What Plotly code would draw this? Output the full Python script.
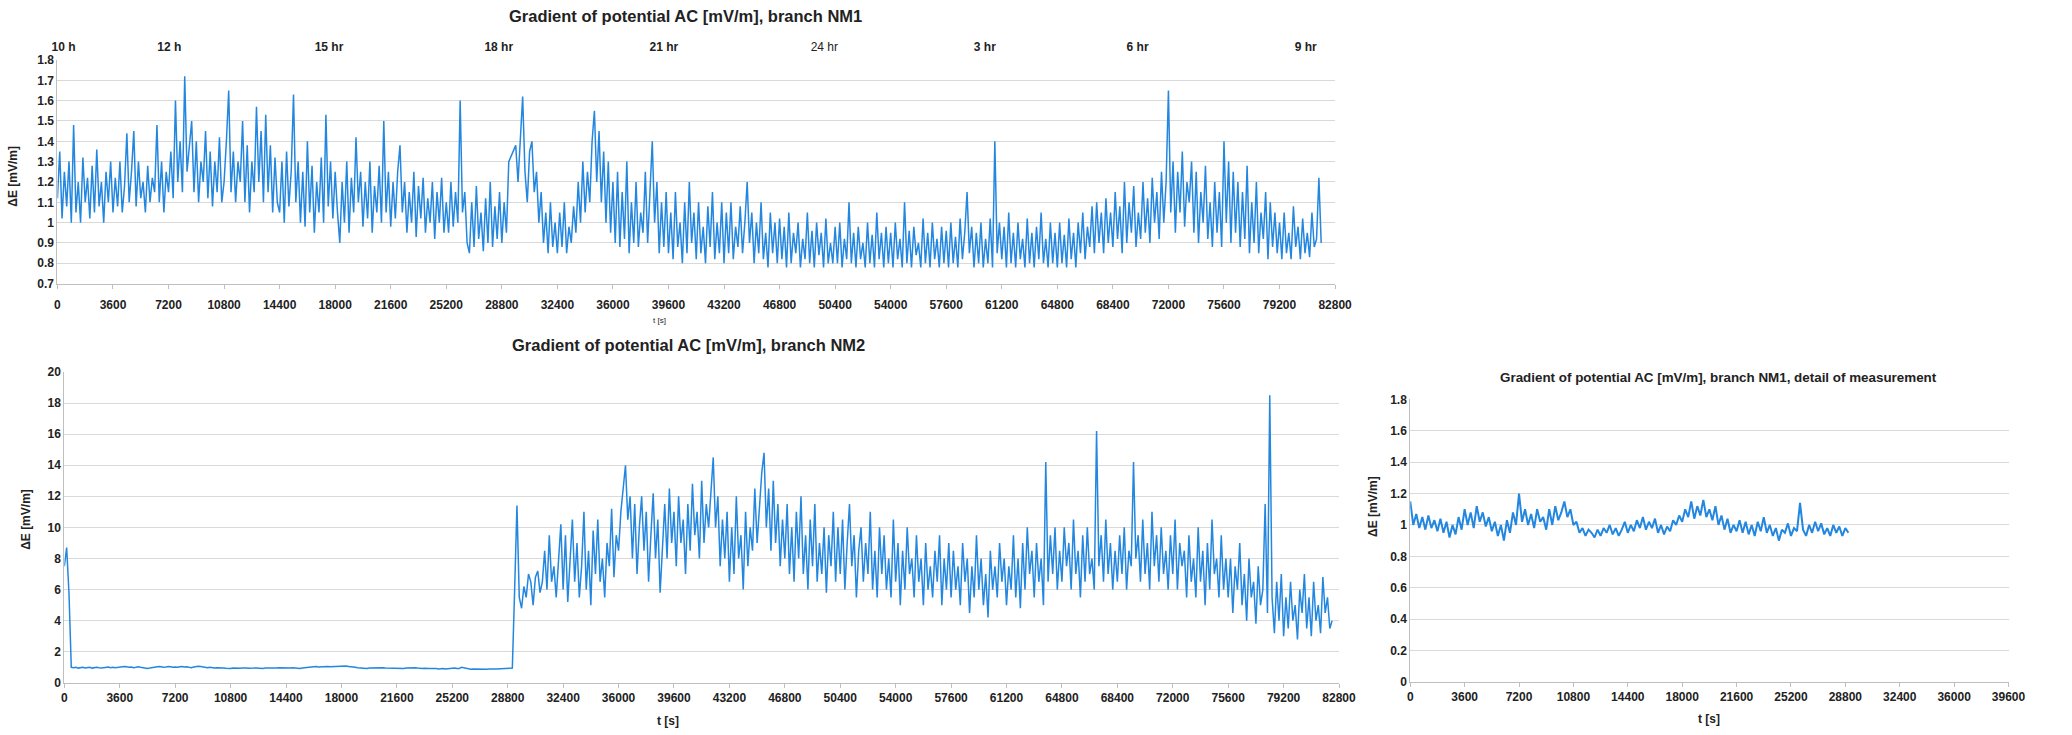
import numpy as np
import plotly.graph_objects as go

# ---------------- DATA ----------------
nm1_step = 150
nm1_values = [
    1.12, 1.35, 1.02, 1.25, 1.08, 1.3, 1.0, 1.48, 1.05, 1.2, 1.0, 1.32, 1.1, 1.22, 1.02, 1.28, 1.05, 1.36, 1.08, 1.2, 1.0, 1.25, 1.1, 1.3,
    1.05, 1.22, 1.08, 1.3, 1.05, 1.18, 1.44, 1.1, 1.25, 1.45, 1.08, 1.3, 1.12, 1.2, 1.05, 1.28, 1.1, 1.22, 1.15, 1.48, 1.1, 1.3, 1.05, 1.25,
    1.15, 1.35, 1.12, 1.6, 1.2, 1.4, 1.15, 1.72, 1.25, 1.38, 1.5, 1.15, 1.4, 1.1, 1.3, 1.2, 1.45, 1.12, 1.35, 1.08, 1.3, 1.15, 1.42, 1.1,
    1.2, 1.4, 1.65, 1.15, 1.35, 1.1, 1.3, 1.2, 1.5, 1.1, 1.38, 1.05, 1.3, 1.15, 1.57, 1.2, 1.45, 1.1, 1.53, 1.15, 1.38, 1.05, 1.32, 1.1,
    1.05, 1.3, 1.0, 1.35, 1.08, 1.25, 1.63, 1.1, 1.3, 1.0, 1.25, 0.98, 1.4, 1.05, 1.28, 0.95, 1.2, 1.05, 1.32, 1.0, 1.53, 1.08, 1.3, 1.02,
    1.25, 1.05, 0.9, 1.2, 1.0, 1.3, 0.95, 1.22, 1.05, 1.42, 1.1, 1.25, 0.98, 1.2, 1.02, 1.3, 0.95, 1.18, 1.05, 1.28, 1.0, 1.5, 1.05, 1.25,
    0.98, 1.2, 1.02, 1.25, 1.38, 1.05, 1.2, 0.95, 1.15, 1.0, 1.25, 0.93, 1.18, 1.02, 1.22, 0.95, 1.12, 1.0, 1.2, 0.92, 1.15, 1.0, 1.22, 0.95,
    1.1, 0.95, 1.2, 0.98, 1.15, 1.0, 1.6, 1.05, 1.15, 0.9, 0.85, 1.1, 0.88, 1.18, 0.92, 1.05, 0.86, 1.12, 0.9, 1.2, 0.88, 1.08, 0.92, 1.15,
    0.9, 1.1, 0.95, 1.3, 1.33, 1.36, 1.38, 1.2, 1.45, 1.62, 1.25, 1.1, 1.35, 1.4, 1.15, 1.25, 1.0, 1.15, 0.9, 1.05, 0.85, 1.1, 0.88, 1.0,
    0.85, 1.05, 0.88, 1.1, 0.85, 0.98, 0.9, 1.08, 0.95, 1.2, 1.0, 1.3, 1.05, 1.25, 1.1, 1.4, 1.55, 1.2, 1.45, 1.1, 1.35, 1.0, 1.3, 0.95,
    1.2, 0.9, 1.25, 0.88, 1.15, 0.92, 1.3, 0.85, 1.1, 0.9, 1.2, 0.88, 1.05, 0.95, 1.25, 0.9, 1.15, 1.4, 1.0, 1.2, 0.85, 1.1, 0.88, 1.15,
    0.85, 1.05, 0.82, 1.15, 0.88, 1.0, 0.8, 1.1, 0.85, 1.2, 0.9, 1.05, 0.82, 1.1, 0.85, 0.98, 0.8, 1.08, 0.88, 1.15, 0.82, 1.0, 0.85, 1.1,
    0.8, 1.05, 0.85, 1.1, 0.82, 0.98, 0.88, 1.08, 0.85, 1.0, 1.2, 0.9, 1.05, 0.8, 1.0, 0.85, 1.1, 0.82, 0.95, 0.78, 1.05, 0.85, 1.0, 0.8,
    1.02, 0.82, 0.98, 0.78, 1.05, 0.8, 0.95, 0.85, 1.0, 0.78, 0.92, 0.82, 1.05, 0.8, 0.96, 0.78, 1.0, 0.84, 0.95, 0.78, 1.02, 0.8, 0.9, 0.8,
    0.98, 0.8, 1.0, 0.78, 0.92, 0.82, 1.1, 0.8, 0.95, 0.78, 0.98, 0.82, 0.9, 0.78, 1.0, 0.8, 0.94, 0.78, 1.05, 0.82, 0.95, 0.78, 0.98, 0.8,
    0.95, 0.78, 1.0, 0.82, 0.92, 0.78, 1.1, 0.8, 0.96, 0.78, 0.98, 0.84, 0.9, 0.78, 1.02, 0.8, 0.95, 0.78, 1.0, 0.82, 0.92, 0.78, 0.98, 0.8,
    0.96, 0.78, 1.0, 0.8, 0.93, 0.78, 1.02, 0.82, 0.95, 1.15, 0.85, 0.98, 0.78, 0.95, 0.8, 1.0, 0.78, 0.92, 0.8, 1.02, 0.78, 1.4, 0.85, 1.0,
    0.82, 0.98, 0.78, 1.05, 0.8, 0.95, 0.78, 1.0, 0.82, 0.92, 0.78, 1.02, 0.8, 0.95, 0.78, 0.98, 0.82, 1.05, 0.8, 0.92, 0.78, 1.0, 0.8, 0.95,
    0.78, 1.0, 0.8, 0.94, 0.78, 1.02, 0.82, 0.95, 0.78, 1.0, 0.85, 1.05, 0.82, 0.98, 0.88, 1.08, 0.85, 1.1, 0.9, 1.05, 0.85, 1.12, 0.9, 1.05,
    0.88, 1.15, 0.92, 1.08, 0.85, 1.2, 0.9, 1.1, 0.95, 1.18, 0.88, 1.05, 0.92, 1.2, 0.95, 1.12, 0.9, 1.22, 1.0, 1.15, 0.92, 1.25, 1.0, 1.2,
    1.65, 1.05, 1.3, 0.95, 1.25, 1.05, 1.35, 0.98, 1.2, 1.1, 1.3, 0.95, 1.25, 0.9, 1.15, 1.0, 1.28, 0.92, 1.1, 0.88, 1.2, 0.95, 1.15, 0.88,
    1.4, 1.0, 1.3, 0.9, 1.25, 0.95, 1.2, 0.88, 1.15, 0.92, 1.28, 0.85, 1.1, 0.9, 1.2, 0.85, 1.05, 0.92, 1.15, 0.82, 1.1, 0.88, 1.05, 0.85,
    1.0, 0.82, 1.05, 0.85, 0.95, 0.82, 1.08, 0.88, 0.98, 0.82, 1.02, 0.85, 0.95, 0.83, 1.05, 0.88, 0.92, 1.22, 0.9,
]

# Branch NM2, full record, sampled every 150 s
nm2_step = 150
nm2_values = [
    7.5, 8.7, 5.8, 1.0, 0.98, 1.0, 0.95, 0.97, 1.0, 0.96, 0.98, 1.0, 0.95, 0.98, 1.0, 0.97, 0.95, 0.98, 1.0, 1.02, 0.98, 1.0, 0.97, 1.0,
    1.0, 1.02, 1.05, 1.03, 1.0, 1.02, 0.98, 1.0, 1.03, 1.0, 0.97, 0.95, 0.93, 0.95, 0.98, 1.0, 1.02, 1.05, 1.03, 1.0, 1.02, 1.05, 1.03, 1.0,
    1.02, 1.0, 1.03, 1.05, 1.02, 1.04, 1.0, 0.98, 1.02, 1.05, 1.07, 1.05, 1.02, 1.0, 0.98, 1.0, 0.97, 0.95, 0.97, 0.95, 0.93, 0.95, 0.94, 0.92,
    0.93, 0.95, 0.94, 0.92, 0.94, 0.95, 0.93, 0.95, 0.94, 0.93, 0.95, 0.96, 0.94, 0.95, 0.93, 0.95, 0.97, 0.95, 0.96, 0.94, 0.95, 0.97, 0.96, 0.95,
    0.97, 0.96, 0.95, 0.97, 0.95, 0.94, 0.93, 0.95, 0.97, 1.0, 1.02, 1.0, 1.03, 1.05, 1.02, 1.04, 1.03, 1.05, 1.06, 1.04, 1.05, 1.07, 1.05, 1.08,
    1.07, 1.1, 1.08, 1.06, 1.05, 1.02, 1.0, 0.97, 0.95, 0.97, 0.95, 0.93, 0.95, 0.96, 0.94, 0.97, 0.95, 0.96, 0.98, 0.96, 0.95, 0.97, 0.96, 0.95,
    0.96, 0.95, 0.94, 0.93, 0.95, 0.96, 0.94, 0.95, 0.97, 0.95, 0.93, 0.92, 0.94, 0.95, 0.93, 0.92, 0.94, 0.92, 0.9, 0.92, 0.93, 0.9, 0.92, 0.91,
    0.93, 0.95, 0.93, 0.92, 1.0, 0.97, 0.94, 0.9, 0.88, 0.9, 0.89, 0.9, 0.88, 0.9, 0.89, 0.88, 0.9, 0.92, 0.9, 0.89, 0.9, 0.88, 0.9, 0.92,
    0.92, 0.9, 0.95, 6.0, 11.4, 5.5, 4.8, 6.2, 5.5, 7.0, 6.5, 5.0, 6.8, 7.2, 5.8, 6.5, 8.5, 6.0, 9.5, 6.5, 7.5, 5.5, 8.0, 10.2,
    6.0, 9.5, 5.2, 8.0, 10.5, 6.5, 9.0, 5.5, 7.5, 11.0, 6.0, 8.5, 5.0, 9.8, 7.0, 10.5, 6.5, 8.0, 5.5, 9.0, 7.5, 11.2, 6.8, 9.5,
    8.5, 11.0, 12.5, 14.0, 10.5, 12.0, 8.0, 11.5, 7.0, 10.0, 12.0, 8.5, 11.0, 6.5, 9.5, 12.2, 8.0, 10.5, 5.8, 9.0, 11.5, 8.0, 12.5, 9.0,
    11.0, 7.5, 12.0, 9.0, 10.5, 7.0, 11.5, 8.5, 12.8, 9.5, 11.0, 8.0, 13.0, 9.0, 11.5, 10.0, 12.5, 14.5, 10.0, 12.0, 7.5, 10.5, 8.0, 11.0,
    6.5, 10.0, 7.0, 12.0, 8.0, 9.5, 6.0, 11.0, 7.5, 10.0, 8.5, 12.5, 9.0, 11.0, 13.5, 14.8, 10.0, 12.5, 8.5, 13.0, 9.0, 11.5, 7.5, 10.5,
    8.0, 11.5, 7.0, 10.0, 6.5, 11.0, 8.0, 12.0, 7.0, 9.5, 6.0, 10.5, 7.5, 11.5, 6.5, 9.0, 7.0, 10.0, 5.8, 9.5, 7.5, 11.0, 6.5, 10.0,
    7.0, 10.5, 6.0, 9.0, 11.5, 7.5, 9.5, 5.5, 8.5, 10.0, 6.5, 9.0, 7.0, 11.0, 6.0, 8.5, 5.5, 10.0, 7.0, 9.5, 6.0, 8.0, 5.5, 10.5,
    6.5, 9.0, 5.0, 8.5, 6.0, 10.0, 7.0, 8.0, 5.5, 9.5, 6.5, 8.0, 5.0, 9.0, 6.0, 7.5, 5.5, 8.5, 6.5, 9.5, 5.0, 8.0, 6.0, 9.0,
    5.5, 8.5, 6.0, 7.5, 5.0, 9.0, 6.5, 8.0, 4.5, 7.5, 5.5, 9.5, 6.0, 8.0, 5.0, 7.0, 4.2, 8.5, 6.0, 7.5, 5.5, 9.0, 6.5, 8.0,
    5.0, 7.5, 6.0, 9.5, 5.5, 8.0, 4.8, 9.0, 6.0, 10.0, 7.0, 8.5, 5.5, 9.0, 6.5, 8.0, 5.0, 14.2, 6.5, 9.5, 7.0, 10.0, 6.0, 8.5,
    6.5, 10.0, 7.5, 9.0, 6.0, 10.5, 7.0, 8.5, 5.5, 9.5, 6.5, 10.0, 7.0, 8.0, 6.0, 16.2, 7.5, 9.5, 6.5, 10.5, 7.0, 9.0, 6.0, 8.5,
    6.5, 9.5, 7.0, 10.0, 6.0, 8.5, 7.5, 14.2, 8.0, 9.5, 6.5, 10.5, 7.0, 9.0, 6.0, 11.0, 7.5, 9.5, 6.5, 10.0, 7.0, 8.5, 6.0, 9.5,
    7.0, 10.5, 6.0, 9.0, 7.5, 8.5, 5.5, 9.5, 6.5, 8.0, 5.5, 10.0, 6.5, 8.5, 5.0, 9.0, 6.0, 10.5, 7.0, 8.0, 5.5, 9.5, 6.0, 8.0,
    5.5, 8.0, 4.5, 7.5, 6.0, 9.0, 5.0, 7.0, 4.0, 8.0, 5.5, 6.5, 3.8, 7.5, 5.0, 6.0, 11.5, 4.5, 18.5, 5.5, 3.2, 6.5, 4.0, 7.0,
    3.0, 5.5, 3.5, 6.5, 4.0, 5.0, 2.8, 6.0, 4.5, 7.0, 3.5, 5.5, 3.0, 6.5, 4.0, 5.0, 3.2, 6.8, 4.5, 5.5, 3.5, 4.0,
]

# Branch NM1, detail of measurement, sampled every 200 s
det_step = 200
det_values = [
    1.15, 1.0, 1.07, 0.98, 1.05, 0.97, 1.06, 0.98, 1.03, 0.96,
    1.04, 0.95, 1.02, 0.92, 1.0, 0.94, 1.05, 0.97, 1.1, 1.0,
    1.08, 0.98, 1.12, 1.02, 1.08, 0.99, 1.05, 0.96, 1.02, 0.93,
    1.0, 0.9, 1.03, 0.95, 1.08, 1.0, 1.2, 1.02, 1.1, 1.0,
    1.07, 0.98, 1.1, 1.02, 1.05, 0.97, 1.1, 1.0, 1.12, 1.03,
    1.08, 1.15, 1.05, 1.1, 1.0, 1.02, 0.95, 0.98, 0.93, 0.97,
    0.95, 0.92, 0.97, 0.93, 0.98, 0.95, 1.0, 0.94, 0.98, 0.93,
    0.97, 1.02, 0.95, 1.0, 0.96, 1.03, 0.98, 1.05, 0.97, 1.02,
    0.98, 1.04, 0.95, 1.0, 0.94, 0.99, 0.96, 1.03, 1.0, 1.06,
    1.02, 1.1, 1.05, 1.15, 1.04, 1.12, 1.06, 1.16, 1.05, 1.1,
    1.03, 1.12, 1.0, 1.06, 0.97, 1.04, 0.95, 1.0, 0.96, 1.03,
    0.95, 1.02, 0.94, 1.0, 0.93, 1.02, 0.96, 1.05, 0.95, 1.0,
    0.93, 0.98, 0.9, 0.97, 0.95, 1.01, 0.93, 0.98, 0.96, 1.14,
    0.97, 0.93, 1.0, 0.95, 1.02, 0.96, 1.01, 0.94, 0.98, 0.93,
    1.0, 0.95, 0.99, 0.93, 0.98, 0.95,
]

# Clock-time labels above the NM1 chart (tick positions in seconds)
hour_labels = ["<b>10 h</b>", "<b>12 h</b>", "<b>15 hr</b>", "<b>18 hr</b>", "<b>21 hr</b>",
               "24 hr", "<b>3 hr</b>", "<b>6 hr</b>", "<b>9 hr</b>"]
hour_positions = [400, 7250, 17600, 28600, 39300, 49700, 60100, 70000, 80900]

titles = ["Gradient of potential AC [mV/m], branch NM1",
          "Gradient of potential AC [mV/m], branch NM2",
          "Gradient of potential AC [mV/m], branch NM1, detail of measurement"]

# ---------------- FIGURE ----------------
W, H = 2072, 735
FONT = "Liberation Sans, Arial, sans-serif"
BLUE = "#2387e0"
GRID = "#d9d9d9"
TXT = "#222"

def px(y):
    return 1 - y / H

def fx(x):
    return x / W

t_nm1 = np.arange(len(nm1_values)) * nm1_step
t_nm2 = np.arange(len(nm2_values)) * nm2_step
t_det = np.arange(len(det_values)) * det_step

fig = go.Figure()
fig.add_trace(go.Scatter(x=t_nm1, y=nm1_values, mode="lines", xaxis="x", yaxis="y",
                         line=dict(color=BLUE, width=1.5), showlegend=False))
fig.add_trace(go.Scatter(x=t_nm2, y=nm2_values, mode="lines", xaxis="x2", yaxis="y2",
                         line=dict(color=BLUE, width=1.5), showlegend=False))
fig.add_trace(go.Scatter(x=t_det, y=det_values, mode="lines", xaxis="x3", yaxis="y3",
                         line=dict(color=BLUE, width=2), showlegend=False))
# invisible trace to activate the clock-time axis on top of the NM1 chart
fig.add_trace(go.Scatter(x=[0], y=[None], xaxis="x4", yaxis="y", showlegend=False,
                         hoverinfo="skip"))

tickfont = dict(family=FONT, size=12, color=TXT, weight="bold")

common_x = dict(showgrid=False, showline=True, linecolor="#bfbfbf", linewidth=1,
                ticks="outside", ticklen=4, tickcolor="#bfbfbf", tickformat="d",
                zeroline=False, tickfont=tickfont)
common_y = dict(showgrid=True, gridcolor=GRID, gridwidth=1, showline=True, linecolor="#bfbfbf",
                linewidth=1, ticks="", zeroline=False, tickfont=tickfont)

fig.update_layout(
    width=W, height=H, margin=dict(l=0, r=0, t=0, b=0),
    paper_bgcolor="white", plot_bgcolor="white",
    font=dict(family=FONT, color=TXT),
    xaxis=dict(domain=[fx(52), fx(1344)], range=[0, 82800], tick0=0, dtick=3600,
               anchor="y", ticklabelstandoff=6, **common_x),
    yaxis=dict(domain=[px(282), px(54)], range=[0.7, 1.8], dtick=0.1, anchor="x", **common_y),
    xaxis4=dict(overlaying="x", side="top", range=[0, 82800], anchor="y",
                tickmode="array", tickvals=hour_positions, ticktext=hour_labels,
                showgrid=False, showline=False, ticks="outside", ticklen=3,
                tickcolor="rgba(0,0,0,0)", zeroline=False,
                tickfont=dict(family=FONT, size=12, color=TXT)),
    xaxis2=dict(domain=[fx(59), fx(1348)], range=[0, 82800], tick0=0, dtick=3600,
                anchor="y2", **common_x),
    yaxis2=dict(domain=[px(689), px(372)], range=[0, 20], dtick=2, anchor="x2", **common_y),
    xaxis3=dict(domain=[fx(1420), fx(2025)], range=[0, 39600], tick0=0, dtick=3600,
                anchor="y3", **common_x),
    yaxis3=dict(domain=[px(688), px(400)], range=[0, 1.8], dtick=0.2, anchor="x3", **common_y),
)

def note(text, x, y, size, angle=0):
    return dict(text=text, x=fx(x), y=px(y), xref="paper", yref="paper",
                xanchor="center", yanchor="middle", showarrow=False, textangle=angle,
                font=dict(size=size, family=FONT, color=TXT))

ann = [
    note("<b>" + titles[0] + "</b>", 687, 9, 16.5),
    note("<b>" + titles[1] + "</b>", 690, 345, 16.5),
    note("<b>" + titles[2] + "</b>", 1732, 378, 13.4),
    note("<b>ΔE [mV/m]</b>", 7, 172, 12, -90),
    note("<b>ΔE [mV/m]</b>", 20, 522, 12, -90),
    note("<b>ΔE [mV/m]</b>", 1383, 509, 12, -90),
    note("t [s]", 661, 320, 8),
    note("<b>t [s]</b>", 669, 728, 12),
    note("<b>t [s]</b>", 1722, 726, 12),
]
fig.update_layout(annotations=ann)

fig.write_html("out.html")
